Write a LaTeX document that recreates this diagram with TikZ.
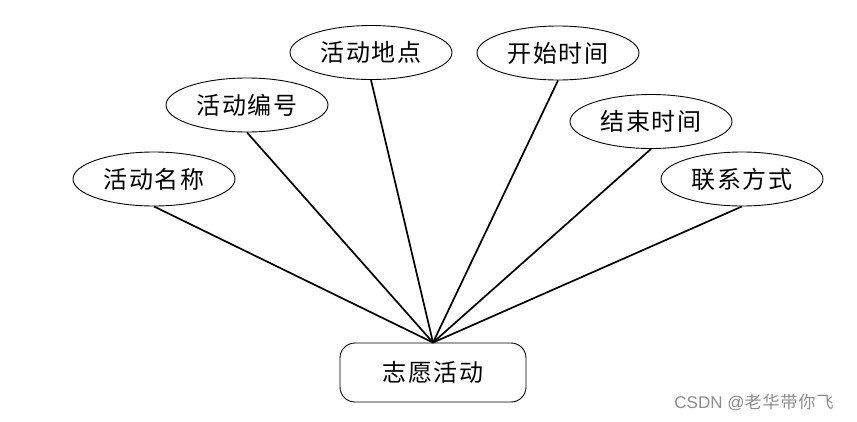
\documentclass[tikz,border=0pt]{standalone}
\usepackage{fontspec}
\setmainfont{Liberation Sans}
\newfontfamily\cjk[LetterSpace=6]{Noto Sans CJK SC}
\usepackage{tikz}
\usetikzlibrary{positioning,shapes.geometric}
\tikzset{
  attrib/.style={draw, ellipse, line width=0.9pt, fill=white, minimum width=162pt, minimum height=54pt, inner sep=0pt, align=center, font=\cjk\fontsize{24}{28}\selectfont},
  entitybox/.style={draw, rounded corners=15pt, line width=0.9pt, fill=white, minimum width=186pt, minimum height=59pt, inner sep=0pt, align=center, font=\cjk\fontsize{24}{28}\selectfont},
  link/.style={line width=1.7pt},
  wmark/.style={text=black!45, font=\fontsize{17}{20}\selectfont}
}
\begin{document}
\begin{tikzpicture}[x=1pt, y=-1pt]
  \useasboundingbox (0,0) rectangle (857,421);
  \node[entitybox] (vol) at (433,372.5) {志愿活动};
  \node[attrib] (name) at (154,179) {活动名称};
  \node[attrib] (num) at (247,105) {活动编号};
  \node[attrib] (place) at (371,52.5) {活动地点};
  \node[attrib] (start) at (558,53) {开始时间};
  \node[attrib] (end) at (651,121.5) {结束时间};
  \node[attrib] (tel) at (742,179) {联系方式};
  \foreach \a in {name,num,place,start,end,tel}
    \draw[link] (\a.south) -- (vol.north);
  \node[wmark] (mark) at (754,403) {CSDN @{\cjk 老华带你飞}};
\end{tikzpicture}
\end{document}
